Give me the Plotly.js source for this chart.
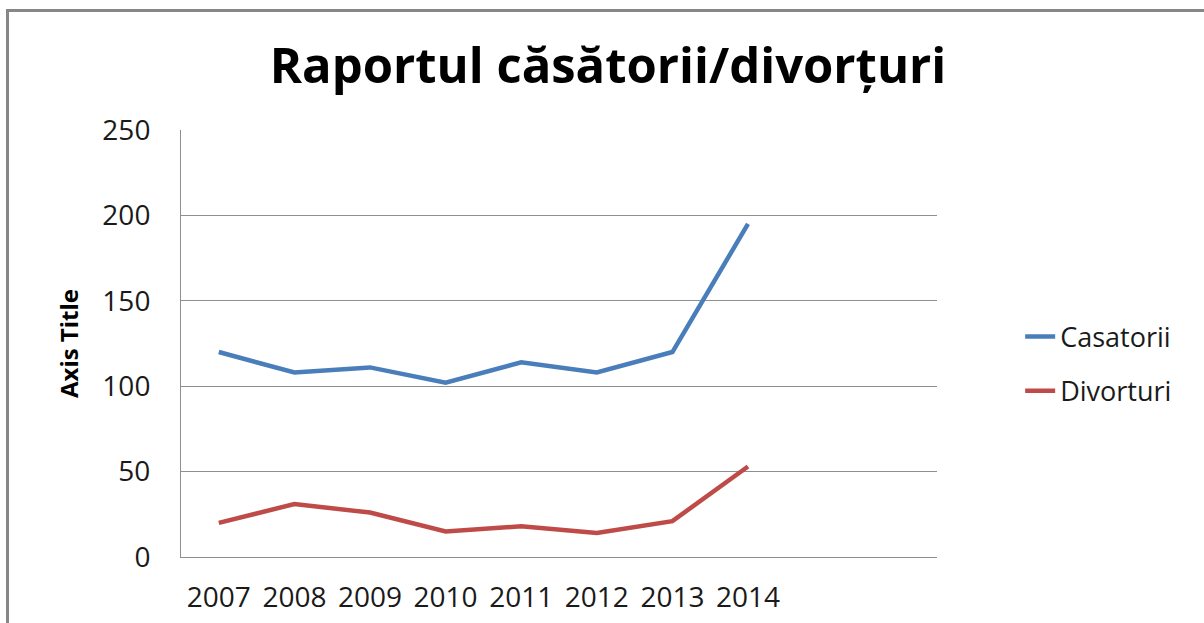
<!DOCTYPE html>
<html>
<head>
<meta charset="utf-8">
<script src="https://cdn.plot.ly/plotly-3.0.1.min.js"></script>
<style>
  html, body { margin: 0; padding: 0; background: #fff; }
  #chart { width: 1204px; height: 623px; }
</style>
</head>
<body>
<div id="chart"></div>
<script>
const years = [2007, 2008, 2009, 2010, 2011, 2012, 2013, 2014];
const casatorii = [120, 108, 111, 102, 114, 108, 120, 195];
const divorturi = [20, 31, 26, 15, 18, 14, 21, 53];
const seriesNames = ['Casatorii', 'Divorturi'];
const chartTitle = 'Raportul căsătorii/divorțuri';
const yTitle = 'Axis Title';
const yTicks = [0, 50, 100, 150, 200, 250];

const font = 'Open Sans, Noto Sans, sans-serif';
const gridColor = '#8f8f8f';

const traces = [
  { x: years, y: casatorii, name: seriesNames[0], type: 'scatter', mode: 'lines',
    legendgroup: 'a', line: { color: '#4a7ebb', width: 4.5 } },
  { x: years, y: divorturi, name: seriesNames[1], type: 'scatter', mode: 'lines',
    legendgroup: 'b', line: { color: '#be4b48', width: 4.5 } }
];

const layout = {
  width: 1204, height: 623,
  margin: { l: 181, r: 267, t: 130, b: 66 },
  paper_bgcolor: '#ffffff', plot_bgcolor: '#ffffff',
  font: { family: font, color: '#1a1a1a', size: 27 },
  title: { text: chartTitle, font: { family: font, size: 49, color: '#000', weight: 'bold' },
           xref: 'container', x: 0.505, xanchor: 'center', yref: 'container', y: 0.895, yanchor: 'middle' },
  xaxis: {
    range: [2006.5, 2016.5], tickvals: years, ticktext: years.map(String),
    showgrid: false, zeroline: false, showline: true, linecolor: gridColor, linewidth: 1,
    ticks: '', ticklabelstandoff: 15, tickfont: { size: 28, color: '#1a1a1a' }, fixedrange: true
  },
  yaxis: {
    range: [0, 250], tickvals: yTicks, showgrid: true, gridcolor: gridColor, gridwidth: 1,
    zeroline: false, showline: true, linecolor: gridColor, linewidth: 1,
    ticks: '', ticklabelstandoff: 24, tickfont: { size: 28, color: '#1a1a1a' },
    title: { text: yTitle, font: { size: 24, color: '#000', weight: 'bold' }, standoff: 16 },
    fixedrange: true
  },
  showlegend: true,
  legend: { x: 1.11, xanchor: 'left', y: 0.452, yanchor: 'middle', font: { size: 27, color: '#1a1a1a' },
            tracegroupgap: 16, bgcolor: 'rgba(0,0,0,0)' },
  shapes: [
    { type: 'path', xref: 'paper', yref: 'paper',
      path: 'M -0.2295,-0.3 L -0.2295,1.2799 L 1.45,1.2799',
      line: { color: '#878787', width: 3 } }
  ]
};

Plotly.newPlot('chart', traces, layout, { displayModeBar: false, staticPlot: true });
</script>
</body>
</html>
